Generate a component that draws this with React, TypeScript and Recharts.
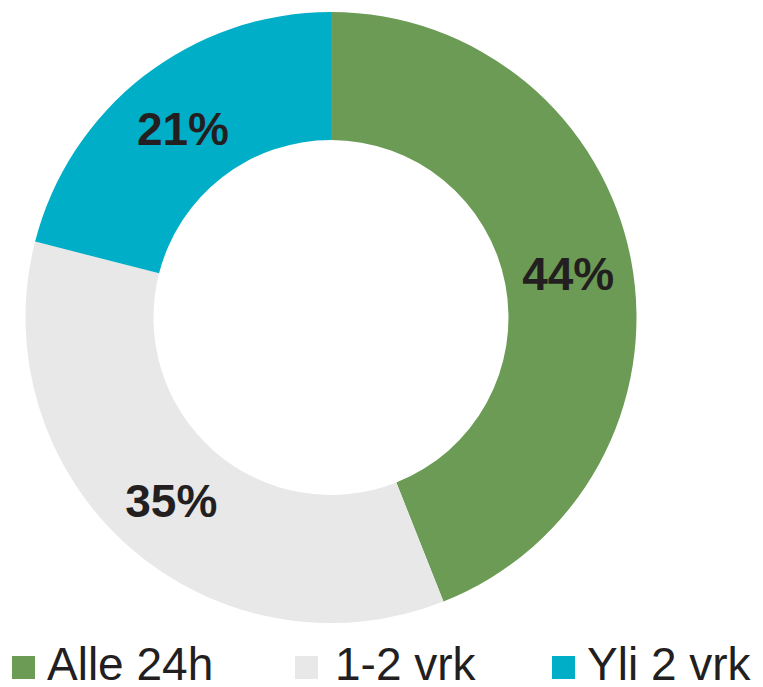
import React from 'react';
import { PieChart, Pie, Cell, Legend } from 'recharts';

const categories = ['Alle 24h', '1-2 vrk', 'Yli 2 vrk'];
const values = [44, 35, 21];
const colors = ['#6B9B55', '#E8E8E8', '#00AEC7'];

const data = categories.map((name, i) => ({ name, value: values[i] }));

const FONT = '"Liberation Sans", Arial, Helvetica, sans-serif';
const TEXT = '#231F20';
const RAD = Math.PI / 180;

const renderLabel = (props: any) => {
  const { cx, cy, midAngle, innerRadius, outerRadius, value } = props;
  const r = (innerRadius + outerRadius) / 2;
  const x = cx + r * Math.cos(-midAngle * RAD);
  const y = cy + r * Math.sin(-midAngle * RAD);
  return (
    <text
      x={x}
      y={y + 18}
      textAnchor="middle"
      fill={TEXT}
      fontFamily={FONT}
      fontWeight="bold"
      fontSize={46}
    >
      {`${value}%`}
    </text>
  );
};

const legendSquares = [4, 287, 544];
const legendTexts = [39, 327, 579];

const renderLegend = () => (
  <svg width={755} height={58} style={{ display: 'block', overflow: 'visible' }}>
    {categories.map((c, i) => (
      <g key={c}>
        <rect x={legendSquares[i]} y={19} width={23} height={23} fill={colors[i]} />
        <text x={legendTexts[i]} y={43} fill={TEXT} fontFamily={FONT} fontSize={46}>
          {c}
        </text>
      </g>
    ))}
  </svg>
);

export default function App() {
  return (
    <PieChart width={755} height={679} margin={{ top: 0, right: 0, bottom: 0, left: 0 }}>
      <Pie
        data={data}
        dataKey="value"
        nameKey="name"
        cx={323}
        cy={309.5}
        innerRadius={177.5}
        outerRadius={305.5}
        startAngle={90}
        endAngle={-270}
        stroke="none"
        label={renderLabel}
        labelLine={false}
        isAnimationActive={false}
      >
        {data.map((d, i) => (
          <Cell key={d.name} fill={colors[i]} />
        ))}
      </Pie>
      <Legend
        content={renderLegend}
        wrapperStyle={{ position: 'absolute', left: 0, top: 629, width: 755, height: 58 }}
      />
    </PieChart>
  );
}
